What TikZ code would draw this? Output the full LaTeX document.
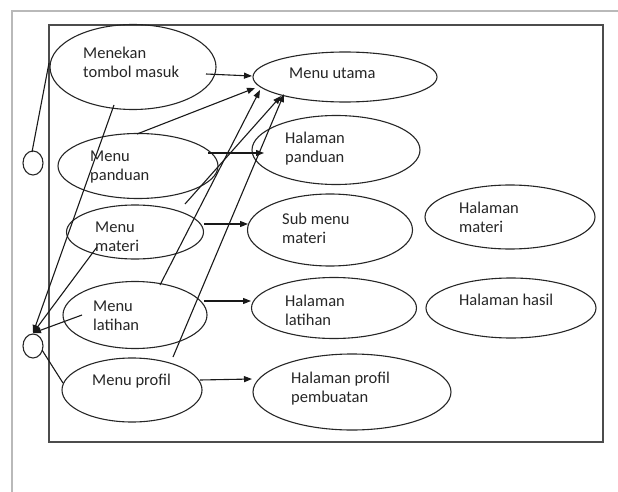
\documentclass[tikz,border=0pt]{standalone}
\usepackage{fontspec}
\setmainfont{Carlito}
\usetikzlibrary{shapes.geometric,arrows.meta}
\begin{document}
\begin{tikzpicture}[x=1pt,y=-1pt,
  ell/.style={draw=black!85,line width=1.1pt,ellipse,inner sep=0pt},
  lbl/.style={anchor=west,align=left,inner sep=0pt,text=black!85,font=\fontsize{16.5}{19}\selectfont},
  arr/.style={draw=black!90,line width=1.1pt,-{Triangle[length=8pt,width=6pt]}},
  ln/.style={draw=black!90,line width=1.1pt}]
\useasboundingbox (0,0) rectangle (618,492);
% frames
\draw[gray!55,line width=1.6pt] (12,492) -- (12,11) -- (618,11);
\draw[black!70,line width=1.6pt] (49,25) rectangle (603,442);
% actors
\node[ell,minimum width=20pt,minimum height=24pt] (act1) at (33,163) {};
\node[ell,minimum width=20pt,minimum height=24pt] (act2) at (33,346) {};
% use cases
\node[ell,minimum width=166pt,minimum height=85pt] (mtm) at (133,67) {};
\node[ell,minimum width=184pt,minimum height=50pt] (mu) at (345,77) {};
\node[ell,minimum width=160pt,minimum height=65pt] (mp) at (138,166) {};
\node[ell,minimum width=168pt,minimum height=69pt] (hp) at (336,150) {};
\node[ell,minimum width=137pt,minimum height=54pt] (mm) at (135,232) {};
\node[ell,minimum width=165pt,minimum height=72pt] (smm) at (330,230) {};
\node[ell,minimum width=170pt,minimum height=64pt] (hm) at (510,217) {};
\node[ell,minimum width=144pt,minimum height=67pt] (ml) at (135,315) {};
\node[ell,minimum width=165pt,minimum height=61pt] (hl) at (334,308) {};
\node[ell,minimum width=170pt,minimum height=60pt] (hh) at (511,308) {};
\node[ell,minimum width=140pt,minimum height=64pt] (mpr) at (132,390) {};
\node[ell,minimum width=198pt,minimum height=76pt] (hpp) at (352,392) {};
% labels
\node[lbl] (tmtm) at (83,62) {Menekan\\tombol masuk};
\node[lbl] (tmu) at (289,73) {Menu utama};
\node[lbl] (tmp) at (90,167) {Menu\\panduan};
\node[lbl] (thp) at (285,149) {Halaman\\panduan};
\node[lbl] (tmm) at (95,237) {Menu\\materi};
\node[lbl] (tsmm) at (282,228) {Sub menu\\materi};
\node[lbl] (thm) at (459,217) {Halaman\\materi};
\node[lbl] (tml) at (93,316) {Menu\\latihan};
\node[lbl] (thl) at (285,310) {Halaman\\latihan};
\node[lbl] (thh) at (459,300) {Halaman hasil};
\node[lbl] (tmpr) at (92,381) {Menu profil};
\node[lbl] (thpp) at (291,389) {Halaman profil\\pembuatan};
% connector end points
\coordinate (s1) at (206,74);   \coordinate (e1) at (252,76);
\coordinate (s2) at (137,134);  \coordinate (e2) at (255,88);
\coordinate (s3) at (185,204);  \coordinate (e3) at (281,96);
\coordinate (s4) at (160,285);  \coordinate (e4) at (260,90);
\coordinate (s5) at (173,357);  \coordinate (e5) at (284,94);
\coordinate (s6) at (208,153);  \coordinate (e6) at (264,153);
\coordinate (s7) at (204,224);  \coordinate (e7) at (248,224);
\coordinate (s8) at (204,301);  \coordinate (e8) at (251,301);
\coordinate (s9) at (200,380);  \coordinate (e9) at (252,379);
\coordinate (b1) at (114,105);
\coordinate (b2) at (97,247);
\coordinate (b3) at (82,315);
\coordinate (tip) at (33,333);
\coordinate (c1a) at (32,152);  \coordinate (c1b) at (49,63);
\coordinate (c2a) at (42,350);  \coordinate (c2b) at (63,383);
% arrows
\draw[arr] (s1) -- (e1);
\draw[arr] (s2) -- (e2);
\draw[arr] (s3) -- (e3);
\draw[arr] (s4) -- (e4);
\draw[arr] (s5) -- (e5);
\draw[arr] (s6) -- (e6);
\draw[arr] (s7) -- (e7);
\draw[arr] (s8) -- (e8);
\draw[arr] (s9) -- (e9);
\draw[arr] (b1) -- (tip);
\draw[arr] (b2) -- (tip);
\draw[arr] (b3) -- (tip);
\draw[ln] (c1a) -- (c1b);
\draw[ln] (c2a) -- (c2b);
\end{tikzpicture}
\end{document}
